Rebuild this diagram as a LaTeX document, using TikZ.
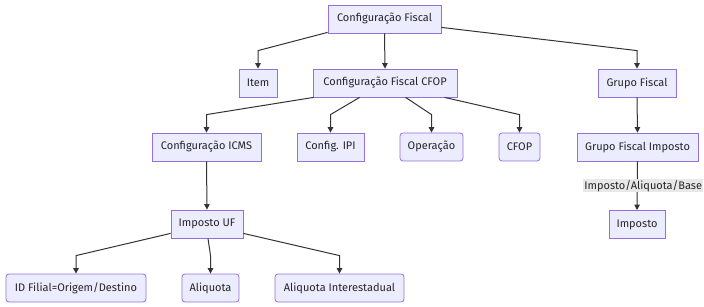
\documentclass[tikz,border=0pt]{standalone}
\usepackage{fontspec}
\setmainfont{Fira Sans}
\usetikzlibrary{arrows.meta}
\definecolor{nodefill}{HTML}{ECECFF}
\definecolor{nodeline}{HTML}{9370DB}
\definecolor{edgeline}{HTML}{333333}
\definecolor{lblbg}{HTML}{E8E8E8}
\begin{document}
\begin{tikzpicture}[x=1pt,y=-1pt,
  box/.style={draw=nodeline,fill=nodefill,line width=0.8pt,minimum height=28pt,inner sep=0pt,font=\fontsize{11}{13}\selectfont,text=black!85},
  rbox/.style={box,rounded corners=3pt},
  arr/.style={draw=edgeline,line width=1pt,-{Triangle[length=5.5pt,width=5.5pt]}},
  lbl/.style={fill=lblbg,inner sep=1pt,font=\fontsize{11}{13}\selectfont,text=black!85}]
\useasboundingbox (0,0) rectangle (704,307);
\node[box,minimum width=113pt] (cf) at (384.5,19) {Configuração Fiscal};
\node[box,minimum width=38pt] (item) at (258,83) {Item};
\node[box,minimum width=144pt] (cfop) at (385,83) {Configuração Fiscal CFOP};
\node[box,minimum width=78pt] (gf) at (637,83) {Grupo Fiscal};
\node[box,minimum width=109pt] (icms) at (206.5,147) {Configuração ICMS};
\node[box,minimum width=67pt] (ipi) at (330.5,147) {Config. IPI};
\node[rbox,minimum width=63pt] (op) at (431.5,147) {Operação};
\node[rbox,minimum width=41pt] (cfopn) at (519.5,147) {CFOP};
\node[box,minimum width=121pt] (gfi) at (637.5,147) {Grupo Fiscal Imposto};
\node[box,minimum width=56pt] (imp) at (637,224.5) {Imposto};
\node[box,minimum width=72pt] (uf) at (207,224) {Imposto UF};
\node[rbox,minimum width=140pt] (idf) at (76,288) {ID Filial=Origem/Destino};
\node[rbox,minimum width=57pt] (aliq) at (210.5,288) {Aliquota};
\node[rbox,minimum width=129pt] (aint) at (339.5,288) {Aliquota Interestadual};

\draw[arr] ([yshift=1pt]cf.south west) -- ([yshift=18pt]item.north) -- (item.north);
\draw[arr] (cf.south) -- (cfop.north);
\draw[arr] ([yshift=6pt]cf.south east) -- ([yshift=18pt]gf.north) -- (gf.north);
\draw[arr] ([xshift=1pt]cfop.south west) -- ([yshift=18pt]icms.north) -- (icms.north);
\draw[arr] ([xshift=47pt]cfop.south west) -- ([yshift=18pt]ipi.north) -- (ipi.north);
\draw[arr] ([xshift=93pt]cfop.south west) -- ([yshift=18pt]op.north) -- (op.north);
\draw[arr] ([xshift=132pt]cfop.south west) -- ([yshift=18pt]cfopn.north) -- (cfopn.north);
\draw[arr] (gf.south) -- (gfi.north);
\draw[arr] (gfi.south) -- node[lbl,xshift=6pt] {Imposto/Aliquota/Base} (imp.north);
\draw[arr] (icms.south) -- (uf.north);
\draw[arr] ([yshift=5pt]uf.south west) -- ([yshift=18pt]idf.north) -- (idf.north);
\draw[arr] ([xshift=1pt]uf.south) .. controls ([xshift=3pt,yshift=-8pt]uf.south) .. ([yshift=18pt]aliq.north) -- (aliq.north);
\draw[arr] ([yshift=5pt]uf.south east) -- ([yshift=18pt]aint.north) -- (aint.north);
\end{tikzpicture}
\end{document}
